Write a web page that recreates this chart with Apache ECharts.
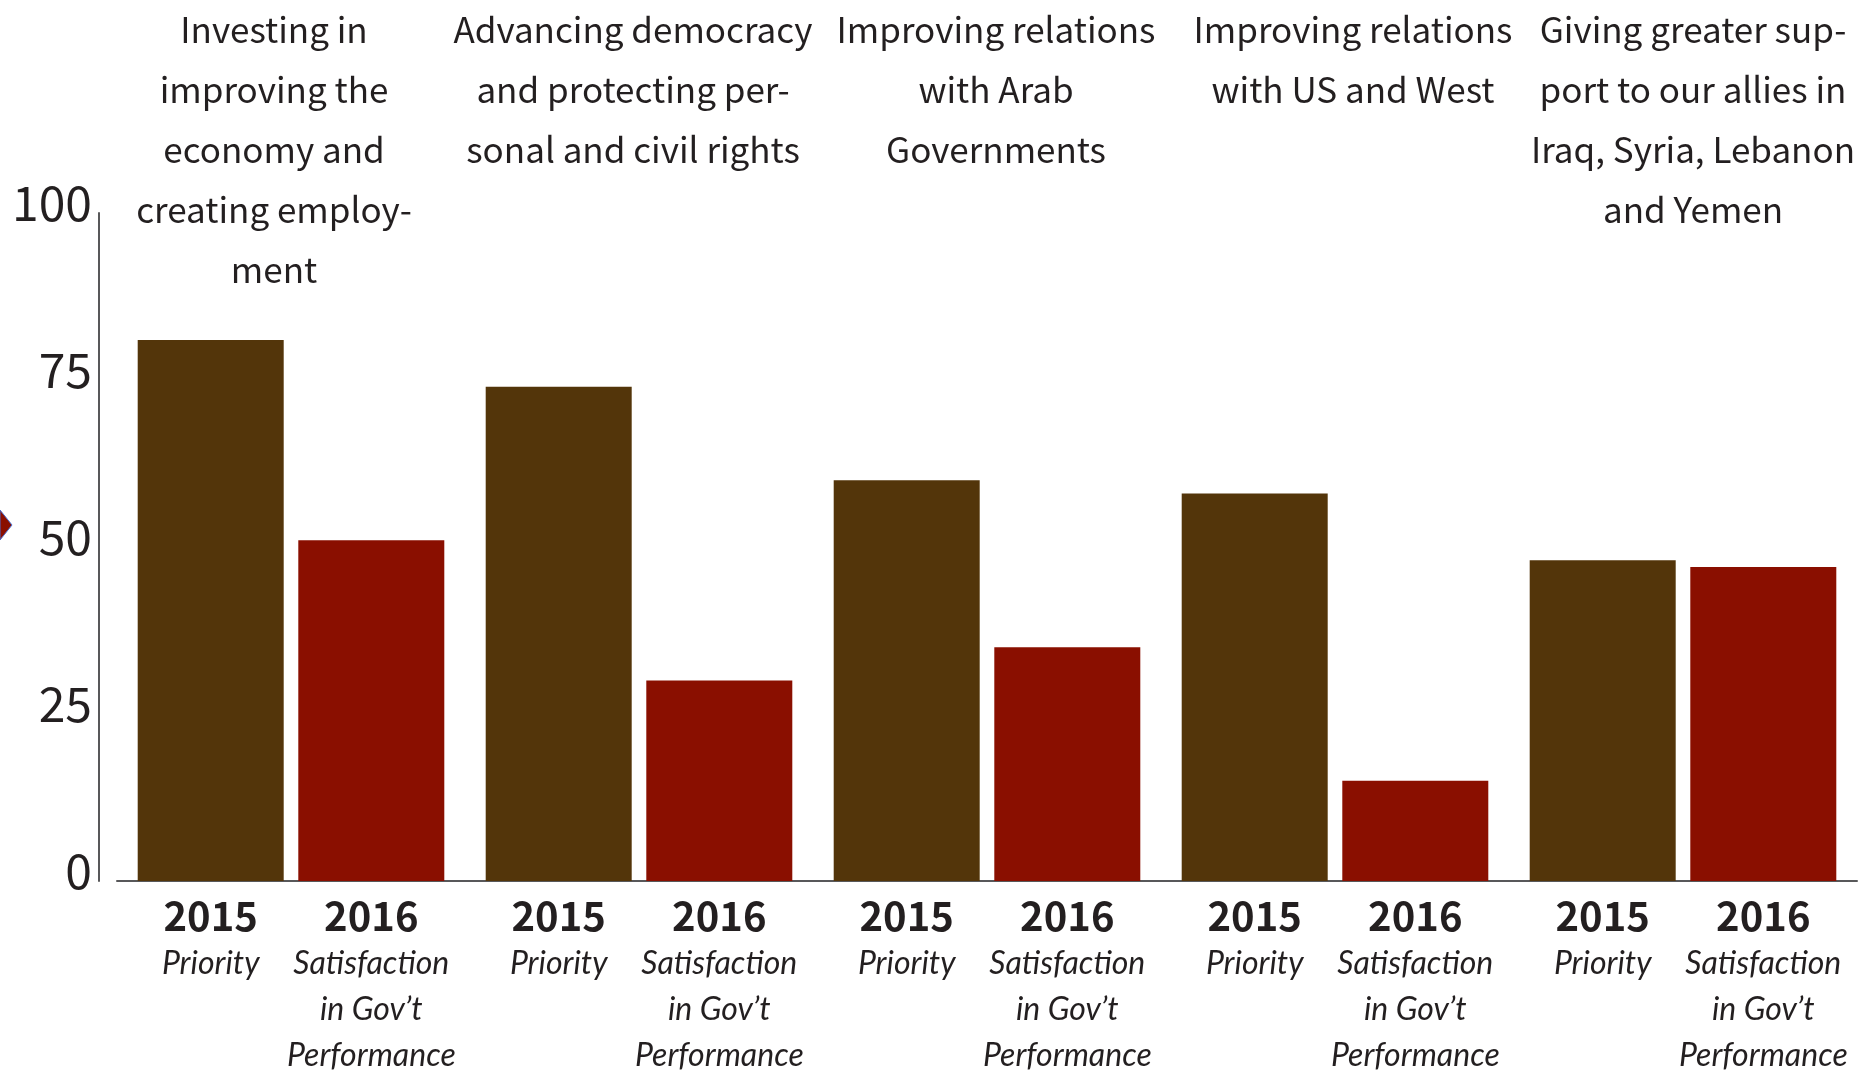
<!DOCTYPE html>
<html>
<head>
<meta charset="utf-8">
<script src="https://cdn.jsdelivr.net/npm/echarts@6/dist/echarts.min.js"></script>
<style>
html,body{margin:0;padding:0;background:#fff;}
#chart{width:1859px;height:1072px;}
</style>
</head>
<body>
<div id="chart"></div>
<script>
// ---- data ----
var categories = [
  'Investing in\nimproving the\neconomy and\ncreating employ-\nment',
  'Advancing democracy\nand protecting per-\nsonal and civil rights',
  'Improving relations\nwith Arab\nGovernments',
  'Improving relations\nwith US and West',
  'Giving greater sup-\nport to our allies in\nIraq, Syria, Lebanon\nand Yemen'
];
var priority2015 = [81, 74, 60, 58, 48];
var satisfaction2016 = [51, 30, 35, 15, 47];
var seriesYears = ['2015', '2016'];
var seriesSubLabels = ['Priority', 'Satisfaction\nin Gov\u2019t\nPerformance'];
var yTicks = [0, 25, 50, 75, 100];

// ---- layout / style ----
var FONT = '"Noto Sans CJK SC", "Noto Sans", Roboto, sans-serif';
var ITALIC_FONT = 'Lato, "Open Sans", "Noto Sans", sans-serif';
var INK = '#231f20';
var colors = ['#53350a', '#8a0f00'];
var TITLE_SHIFT = [-17, -6, 9, 18, 10]; // horizontal nudge of each group heading (px)

function barLabel(i) {
  var lines = seriesSubLabels[i].split('\n').map(function (l) { return '{s|' + l + '}'; });
  return '{y|' + seriesYears[i] + '}\n' + lines.join('\n');
}

function makeSeries(i, data) {
  return {
    type: 'bar',
    name: seriesYears[i],
    data: data,
    barWidth: 146,
    barGap: '10%',
    itemStyle: { color: colors[i] },
    label: {
      show: true,
      position: 'bottom',
      distance: 10,
      formatter: function () { return barLabel(i); },
      rich: {
        y: { fontFamily: FONT, fontWeight: 'bold', fontSize: 40, lineHeight: 50, color: INK },
        s: { fontFamily: ITALIC_FONT, fontStyle: 'italic', fontSize: 32, lineHeight: 46, color: INK }
      }
    },
    emphasis: { disabled: true },
    silent: true
  };
}

var titleRich = {};
TITLE_SHIFT.forEach(function (dx, k) {
  titleRich['t' + k] = {
    fontFamily: FONT, fontSize: 35, lineHeight: 60, color: INK,
    padding: dx >= 0 ? [0, 0, 0, 2 * dx] : [0, -2 * dx, 0, 0]
  };
});

var chart = echarts.init(document.getElementById('chart'));
chart.setOption({
  animation: false,
  backgroundColor: '#ffffff',
  grid: { left: 117, right: 2, top: 213, bottom: 191, containLabel: false, outerBoundsMode: 'none' },
  xAxis: [
    {
      type: 'category',
      data: categories,
      position: 'bottom',
      axisLine: { show: true, lineStyle: { color: '#58585a', width: 2 } },
      axisTick: { show: false },
      axisLabel: { show: false }
    },
    {
      type: 'category',
      data: categories,
      position: 'top',
      axisLine: { show: false },
      axisTick: { show: false },
      axisLabel: {
        show: true,
        interval: 0,
        margin: 213,
        verticalAlign: 'top',
        align: 'center',
        formatter: function (value, index) {
          return value.split('\n').map(function (l) { return '{t' + index + '|' + l + '}'; }).join('\n');
        },
        rich: titleRich
      }
    }
  ],
  yAxis: {
    type: 'value',
    min: yTicks[0],
    max: yTicks[yTicks.length - 1],
    interval: 25,
    offset: 18,
    axisLine: { show: true, lineStyle: { color: '#58585a', width: 2 } },
    axisTick: { show: false },
    splitLine: { show: false },
    axisLabel: {
      margin: 7,
      fontFamily: FONT,
      fontSize: 48,
      color: INK,
      verticalAlign: 'bottom',
      lineHeight: 20
    }
  },
  graphic: [
    {
      type: 'polygon',
      shape: { points: [[0, 510], [12, 525], [0, 540]] },
      style: { fill: '#8a0f00', stroke: '#4a6fd0', lineWidth: 1 },
      silent: true
    }
  ],
  series: [makeSeries(0, priority2015), makeSeries(1, satisfaction2016)]
});
</script>
</body>
</html>
